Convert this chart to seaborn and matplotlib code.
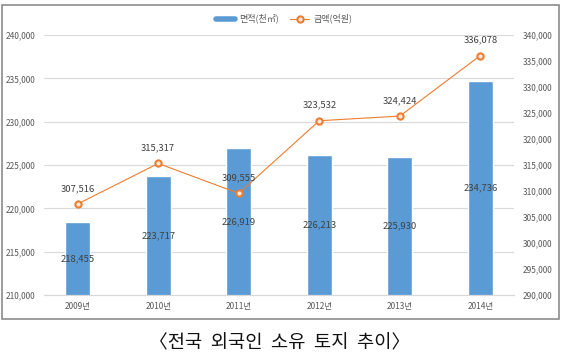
import matplotlib
matplotlib.use("Agg")
import matplotlib.pyplot as plt
import seaborn as sns
import pandas as pd
import numpy as np
from matplotlib.patches import Rectangle
from matplotlib.lines import Line2D
from matplotlib.ticker import FuncFormatter

sns.set_style("white")
plt.rcParams['font.family'] = ['Noto Sans CJK KR', 'DejaVu Sans']

# 데이터
years = ["2009년", "2010년", "2011년", "2012년", "2013년", "2014년"]
area = [218455, 223717, 226919, 226213, 225930, 234736]      # 면적(천㎡)
amount = [307516, 315317, 309555, 323532, 324424, 336078]    # 금액(억원)

df = pd.DataFrame({"year": years, "area": area, "amount": amount})

BAR = "#5b9bd5"
LINE = "#ed7d31"
TXT = "#404040"
TICK = "#595959"

fig = plt.figure(figsize=(5.62, 3.62), dpi=100)
ax = fig.add_axes([0.078, 0.185, 0.837, 0.718])

sns.barplot(data=df, x="year", y="area", color=BAR, width=0.31,
            saturation=1, ax=ax)
ax.set_ylim(210000, 240000)
ax.set_yticks(range(210000, 240001, 5000))
ax.yaxis.set_major_formatter(FuncFormatter(lambda v, p: f"{int(v):,}"))
ax.grid(axis="y", color="#d9d9d9", lw=0.8)
ax.set_axisbelow(True)
ax.set_xlabel("")
ax.set_ylabel("")

ax2 = ax.twinx()
sns.lineplot(x=np.arange(len(years)), y=df["amount"], ax=ax2, color=LINE,
             lw=0.8, marker="o", markersize=4.5, markeredgewidth=1.5,
             markerfacecolor="#fde9d9", markeredgecolor=LINE)
ax2.set_ylim(290000, 340000)
ax2.set_yticks(range(290000, 340001, 5000))
ax2.yaxis.set_major_formatter(FuncFormatter(lambda v, p: f"{int(v):,}"))
ax2.set_ylabel("")

for a in (ax, ax2):
    for s in ("top", "left", "right"):
        a.spines[s].set_visible(False)
    a.spines["bottom"].set_color("#d9d9d9")
    a.tick_params(length=0, labelsize=6, colors=TICK)
ax.tick_params(axis="y", pad=6)
ax2.tick_params(axis="y", pad=6)
ax.tick_params(axis="x", pad=5)

# 데이터 레이블
for i, v in enumerate(area):
    ax.text(i, (210000 + v) / 2, f"{v:,}", ha="center", va="center",
            fontsize=6.8, color=TXT)
for i, v in enumerate(amount):
    ax2.annotate(f"{v:,}", (i, v), xytext=(0, 8), textcoords="offset points",
                 ha="center", va="bottom", fontsize=6.8, color=TXT)

# 범례
handles = [Line2D([], [], color=BAR, lw=4),
           Line2D([], [], color=LINE, lw=0.8, marker="o", markersize=4.5,
                  markeredgewidth=1.5, markerfacecolor="#fde9d9")]
fig.legend(handles, ["면적(천㎡)", "금액(억원)"], loc="center",
           bbox_to_anchor=(0.505, 0.948), ncol=2, frameon=False, fontsize=6.5,
           handlelength=2.2, columnspacing=1.2, handletextpad=0.4,
           labelcolor=TICK)

# 차트 테두리
fig.patches.append(Rectangle((2 / 562, 1 - 319 / 362), 557 / 562, 314 / 362,
                             transform=fig.transFigure, fill=False,
                             edgecolor="#8c8c8c", lw=1.2))

fig.text(0.497, 1 - 343 / 362, "〈전국  외국인  소유  토지  추이〉", ha="center",
         va="center", fontsize=13.5, color="#111111")

fig.savefig("out.png", dpi=100)
